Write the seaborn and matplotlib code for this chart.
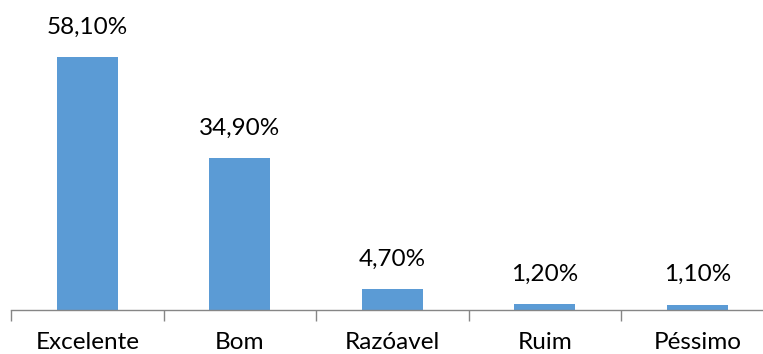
import matplotlib
matplotlib.use("Agg")
import matplotlib.pyplot as plt
import seaborn as sns
import pandas as pd

categories = ["Excelente", "Bom", "Razóavel", "Ruim", "Péssimo"]
values = [58.1, 34.9, 4.7, 1.2, 1.1]
labels = ["58,10%", "34,90%", "4,70%", "1,20%", "1,10%"]

sns.set_theme(style="white")
plt.rcParams['font.family'] = ['Lato', 'DejaVu Sans']

df = pd.DataFrame({"cat": categories, "val": values})

fig = plt.figure(figsize=(7.63, 3.54), dpi=100)
ax = fig.add_axes([11.25 / 763, 44.5 / 354, 762.5 / 763, 304.2 / 354])
sns.barplot(data=df, x="cat", y="val", color="#5B9BD5", saturation=1,
            width=0.4, linewidth=0, ax=ax)

ax.set_xlim(-0.5, 4.5)
ax.set_ylim(0, 70)
for sp in ["top", "right", "left"]:
    ax.spines[sp].set_visible(False)
ax.spines["bottom"].set_color("#868686")
ax.spines["bottom"].set_linewidth(1.0)
ax.set_yticks([])
ax.set_xlabel("")
ax.set_ylabel("")

ax.set_xticks(range(len(categories)))
ax.set_xticklabels(categories, fontsize=17.5, color="black")
ax.tick_params(axis="x", which="major", length=0, pad=16)
ax.set_xticks([i - 0.5 for i in range(len(categories) + 1)], minor=True)
ax.tick_params(axis="x", which="minor", length=8, width=1.0, color="#868686",
               bottom=True)

for i, (v, lab) in enumerate(zip(values, labels)):
    ax.annotate(lab, (i, v), xytext=(0, 14), textcoords="offset points",
                ha="center", va="bottom", fontsize=17.5, color="black")

fig.savefig("out.png", dpi=100)
